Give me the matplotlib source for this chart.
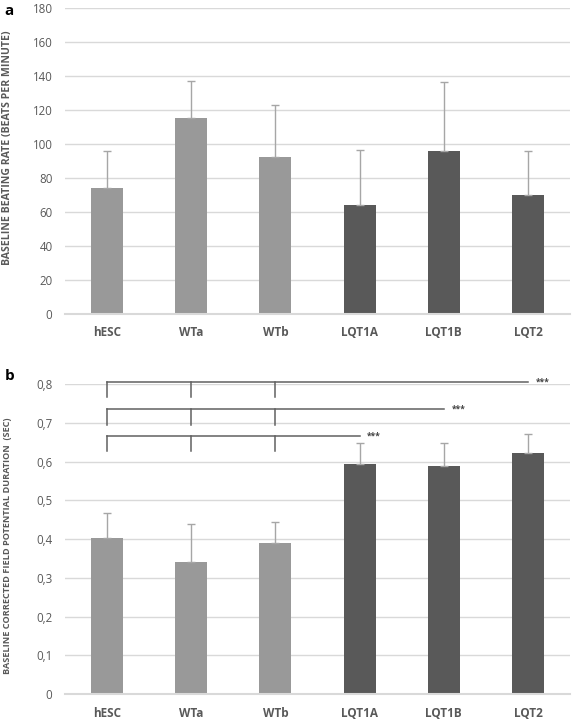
import matplotlib
matplotlib.use("Agg")
import matplotlib.pyplot as plt
import numpy as np

categories = ["hESC", "WTa", "WTb", "LQT1A", "LQT1B", "LQT2"]
rate_mean = [74, 115, 92, 64, 96, 70]
rate_err = [22, 22, 31, 32.5, 40.5, 25.5]
fpd_mean = [0.402, 0.340, 0.391, 0.593, 0.588, 0.622]
fpd_err = [0.066, 0.100, 0.054, 0.055, 0.060, 0.050]
rate_ticks = [0, 20, 40, 60, 80, 100, 120, 140, 160, 180]
fpd_ticks = [0, 0.1, 0.2, 0.3, 0.4, 0.5, 0.6, 0.7, 0.8]
fpd_ticklabels = ["0", "0,1", "0,2", "0,3", "0,4", "0,5", "0,6", "0,7", "0,8"]
# significance brackets: (line level, tick bottom, target category index)
brackets = [(0.805, 0.766, 5), (0.735, 0.694, 4), (0.666, 0.627, 3)]
bracket_sources = [0, 1, 2]
sig_label = "***"

plt.rcParams['font.family'] = ['Open Sans', 'DejaVu Sans']

light = "#999999"
dark = "#595959"
colors = [light, light, light, dark, dark, dark]
grid_c = "#d9d9d9"
text_c = "#595959"
err_c = "#a6a6a6"

fig = plt.figure(figsize=(5.72, 7.21), dpi=100)
fig.patch.set_facecolor("white")

ax1 = fig.add_axes([0.1136, 0.565, 0.883, 0.424])
ax2 = fig.add_axes([0.1136, 0.0374, 0.883, 0.430])

x = np.arange(len(categories))

def style(ax, ticks, ticklabels, ylim):
    ax.set_xlim(-0.5, len(categories) - 0.5)
    ax.set_ylim(*ylim)
    ax.set_yticks(ticks)
    ax.set_yticklabels(ticklabels, fontsize=8.3, color=text_c)
    ax.set_xticks(x)
    ax.set_xticklabels(categories, fontsize=8.5, fontweight="bold", color=text_c)
    ax.tick_params(axis="both", length=0)
    ax.tick_params(axis="y", pad=9)
    ax.tick_params(axis="x", pad=9)
    for s in ["top", "right", "left"]:
        ax.spines[s].set_visible(False)
    ax.spines["bottom"].set_color(grid_c)
    ax.spines["bottom"].set_linewidth(1.5)
    ax.grid(axis="y", color=grid_c, linewidth=1)
    ax.set_axisbelow(True)
    ax.set_facecolor("white")

# Panel a
ax1.bar(x, rate_mean, width=0.38, color=colors, zorder=2)
ax1.errorbar(x, rate_mean, yerr=[np.zeros(len(x)), rate_err], fmt="none",
             ecolor=err_c, elinewidth=1, capsize=3, capthick=1, zorder=3)
style(ax1, rate_ticks, [str(t) for t in rate_ticks], (0, 180))
fig.text(8 / 572, 0.795, "BASELINE BEATING RATE (BEATS PER MINUTE)", fontsize=7.6,
         fontweight="bold", color=text_c, rotation=90, ha="center", va="center")

# Panel b
ax2.bar(x, fpd_mean, width=0.38, color=colors, zorder=2)
ax2.errorbar(x, fpd_mean, yerr=[np.zeros(len(x)), fpd_err], fmt="none",
             ecolor=err_c, elinewidth=1, capsize=3, capthick=1, zorder=3)
style(ax2, fpd_ticks, fpd_ticklabels, (0, 0.8))
fig.text(8 / 572, 0.243, "BASELINE CORRECTED FIELD POTENTIAL DURATION  (SEC)",
         fontsize=6.6, fontweight="bold", color=text_c, rotation=90,
         ha="center", va="center")

line_c = "#606060"
for level, bottom, target in brackets:
    ax2.plot([x[bracket_sources[0]], x[target]], [level, level], color=line_c,
             linewidth=1.1, clip_on=False, zorder=4)
    for s in bracket_sources:
        ax2.plot([x[s], x[s]], [bottom, level], color=line_c, linewidth=1.1,
                 clip_on=False, zorder=4)
    ax2.text(x[target] + 0.09, level, sig_label, fontsize=6, fontweight="bold",
             color="#404040", va="center", ha="left")

fig.text(0.008, 0.985, "a", fontsize=11, fontweight="bold", va="center", ha="left")
fig.text(0.008, 0.478, "b", fontsize=11, fontweight="bold", va="center", ha="left")

fig.savefig("out.png", dpi=100)
